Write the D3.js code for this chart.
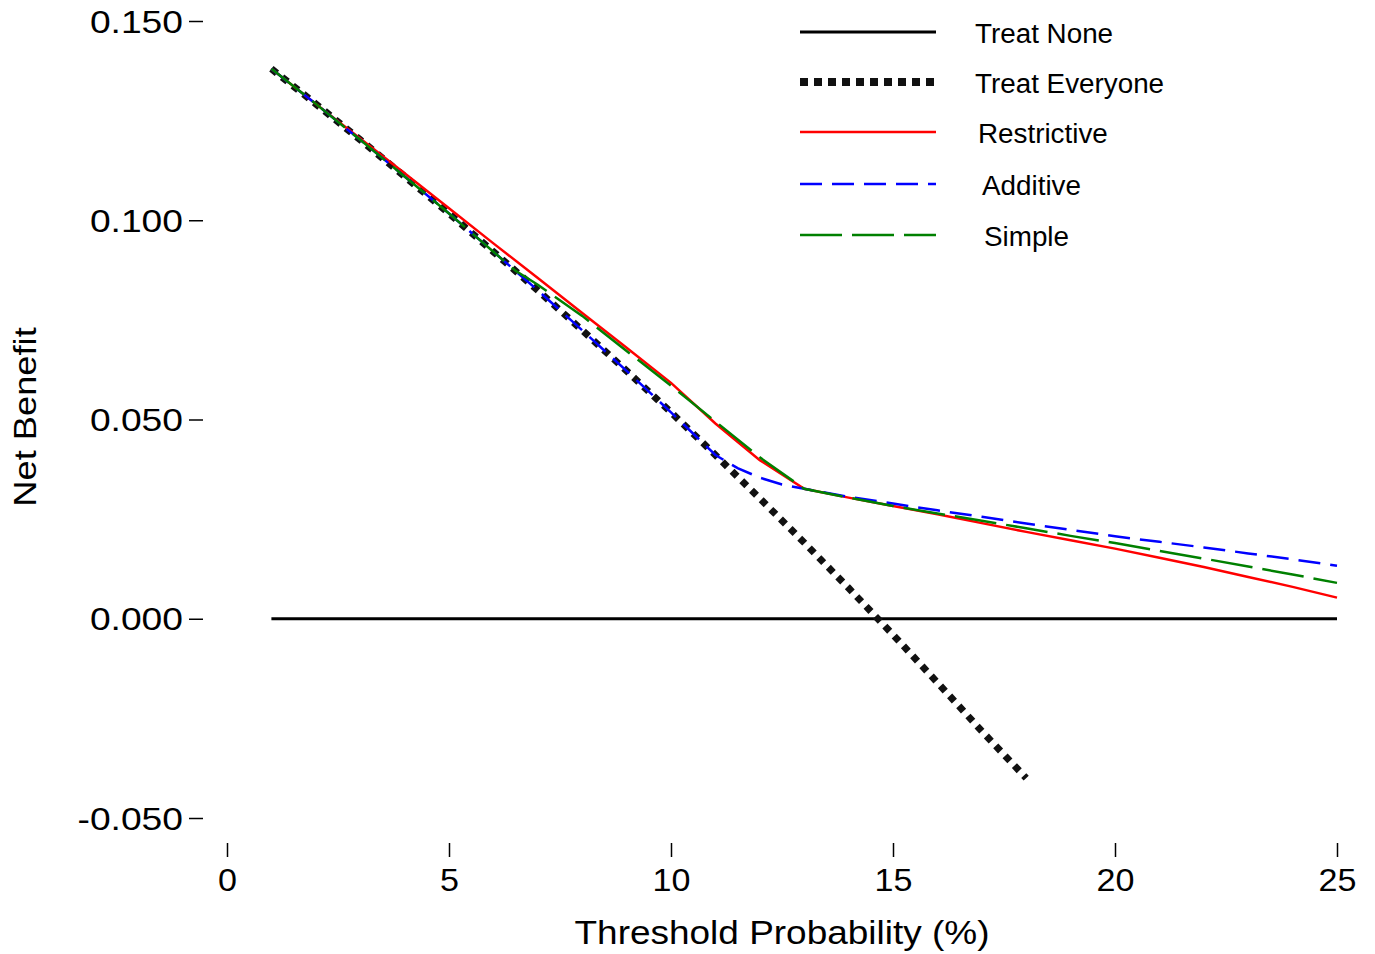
<!DOCTYPE html>
<html>
<head>
<meta charset="utf-8">
<script src="https://cdn.jsdelivr.net/npm/d3@7"></script>
<style>
  body { margin: 0; background: #fff; }
  text { font-family: Arial, "Liberation Sans", sans-serif; fill: #000; }
</style>
</head>
<body>
<svg id="chart" width="1375" height="954"></svg>
<script>
// threshold probabilities (%)
var thresholds = [1, 2, 3, 4, 5, 6, 7, 8, 9, 10, 11, 12, 13, 14, 15, 16, 17, 18, 19, 20, 21, 22, 23, 24, 25];
var treatNone = [0, 0, 0, 0, 0, 0, 0, 0, 0, 0, 0, 0, 0, 0, 0, 0, 0, 0, 0, 0, 0, 0, 0, 0, 0];
// treat everyone stops at 18%
var treatEveryone = [0.1380, 0.1292, 0.1202, 0.1110, 0.1017, 0.0921, 0.0824, 0.0724, 0.0622, 0.0518,
    0.0411, 0.0302, 0.0191, 0.0077, -0.0040, -0.0160, -0.0282, -0.0400];
var restrictive = [0.1380, 0.1292, 0.1205, 0.1118, 0.1030, 0.0942, 0.0855, 0.0767, 0.0680, 0.0592,
    0.0490, 0.0398, 0.0326, 0.0304, 0.0283, 0.0262, 0.0240, 0.0218, 0.0197, 0.0176,
    0.0153, 0.0130, 0.0105, 0.0080, 0.0053];
var additiveX = [1, 2, 3, 4, 5, 6, 7, 8, 9, 10, 11, 11.5, 12, 12.5, 13, 14, 15, 16, 17, 18, 19, 20, 21, 22, 23, 24, 25];
var additive = [0.1380, 0.1292, 0.1202, 0.1110, 0.1017, 0.0921, 0.0824, 0.0724, 0.0622, 0.0518,
    0.0411, 0.0378, 0.0354, 0.0337, 0.0326, 0.0306, 0.0289, 0.0272, 0.0256, 0.0239,
    0.0223, 0.0207, 0.0193, 0.0179, 0.0164, 0.0149, 0.0133];
var simpleX = [1, 2, 3, 4, 5, 6, 6.5, 7, 8, 9, 10, 11, 12, 13, 14, 15, 16, 17, 18, 19, 20, 21, 22, 23, 24, 25];
var simple = [0.1380, 0.1292, 0.1202, 0.1110, 0.1017, 0.0921, 0.0873, 0.0838, 0.0760, 0.0672,
    0.0585, 0.0495, 0.0405, 0.0326, 0.0304, 0.0283, 0.0264, 0.0246, 0.0227, 0.0208,
    0.0190, 0.0170, 0.0151, 0.0131, 0.0111, 0.0090];

var xTicks = [0, 5, 10, 15, 20, 25];
var yTicks = [-0.05, 0, 0.05, 0.10, 0.15];
var legendNames = ["Treat None", "Treat Everyone", "Restrictive", "Additive", "Simple"];

var svg = d3.select("#chart");

var x = d3.scaleLinear().domain([0, 25]).range([227, 1337]);
var y = d3.scaleLinear().domain([-0.05, 0.15]).range([818, 21]);

// the original font is a bit wider than Arial, stretch text horizontally
var stretch = function(sel, k) {
    sel.each(function() {
        var w = this.getComputedTextLength();
        d3.select(this)
            .attr("textLength", w * k)
            .attr("lengthAdjust", "spacingAndGlyphs");
    });
};

// line styles, same order as legendNames
var styles = [
    {color: "#000", width: 3, dash: null},
    {color: "#111", width: 7, dash: "7,6.6"},
    {color: "#ff0000", width: 2.5, dash: null},
    {color: "#0000ff", width: 2.5, dash: "22,10"},
    {color: "#008000", width: 2.5, dash: "42,10"}
];

// y axis: ticks only, no domain line
var yAxis = d3.axisLeft(y)
    .tickValues(yTicks)
    .tickSize(14)
    .tickPadding(6)
    .tickFormat(d3.format(".3f"));
var gy = svg.append("g")
    .attr("transform", "translate(203,0)")
    .call(yAxis);
gy.select(".domain").remove();
gy.selectAll(".tick line").attr("stroke", "#000").attr("stroke-width", 1.5);
gy.selectAll(".tick text")
    .style("font-size", "31px")
    .attr("dy", "0.36em")
    .text(function(d) { return d3.format(".3f")(d).replace("\u2212", "-"); });
stretch(gy.selectAll(".tick text"), 1.2);

// x axis
var xAxis = d3.axisBottom(x)
    .tickValues(xTicks)
    .tickSize(14)
    .tickPadding(12);
var gx = svg.append("g")
    .attr("transform", "translate(0,843)")
    .call(xAxis);
gx.select(".domain").remove();
gx.selectAll(".tick line").attr("stroke", "#000").attr("stroke-width", 1.5);
gx.selectAll(".tick text").style("font-size", "31px");
stretch(gx.selectAll(".tick text"), 1.1);

// axis titles
var xTitle = svg.append("text")
    .attr("x", 782)
    .attr("y", 944)
    .attr("text-anchor", "middle")
    .style("font-size", "33px")
    .text("Threshold Probability (%)");
stretch(xTitle, 1.12);
var yTitle = svg.append("text")
    .attr("transform", "translate(36,417) rotate(-90)")
    .attr("text-anchor", "middle")
    .style("font-size", "31px")
    .text("Net Benefit");
stretch(yTitle, 1.17);

var line = d3.line()
    .x(function(d) { return x(d[0]); })
    .y(function(d) { return y(d[1]); });

var seriesData = [
    thresholds.map(function(t, i) { return [t, treatNone[i]]; }),
    treatEveryone.map(function(v, i) { return [thresholds[i], v]; }),
    thresholds.map(function(t, i) { return [t, restrictive[i]]; }),
    additiveX.map(function(t, i) { return [t, additive[i]]; }),
    simpleX.map(function(t, i) { return [t, simple[i]]; })
];

seriesData.forEach(function(d, i) {
    var s = styles[i];
    var path = svg.append("path")
        .datum(d)
        .attr("fill", "none")
        .attr("stroke", s.color)
        .attr("stroke-width", s.width)
        .attr("d", line);
    if (s.dash) path.attr("stroke-dasharray", s.dash);
});

// legend
var legendY = [32, 82, 132, 184, 235];
var legendTextX = [975, 975, 978, 982, 984];
var legend = svg.append("g");
legendNames.forEach(function(name, i) {
    var s = styles[i];
    var ln = legend.append("line")
        .attr("x1", 800).attr("x2", 936)
        .attr("y1", legendY[i]).attr("y2", legendY[i])
        .attr("stroke", s.color)
        .attr("stroke-width", i === 1 ? 8 : s.width);
    if (s.dash) ln.attr("stroke-dasharray", i === 1 ? "8,6" : s.dash);
    var t = legend.append("text")
        .attr("x", legendTextX[i])
        .attr("y", legendY[i] + 11)
        .style("font-size", "27px")
        .text(name);
    stretch(t, 1.03);
});
</script>
</body>
</html>
